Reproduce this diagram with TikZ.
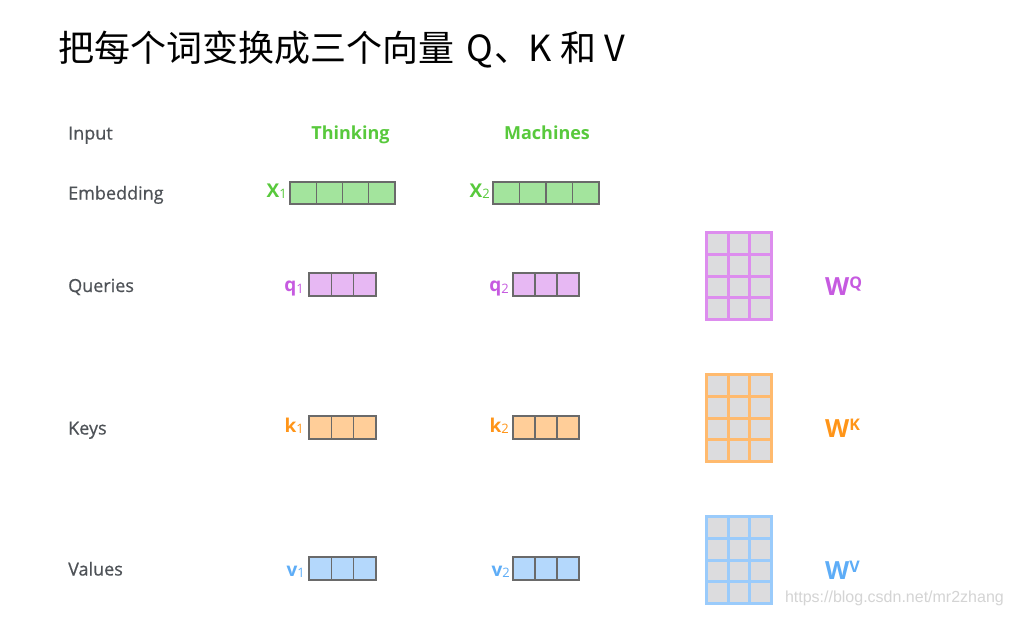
\documentclass[tikz,border=0pt]{standalone}
\usepackage{fontspec}
\setmainfont{Open Sans}
\newfontfamily\cjkfont{Noto Sans CJK SC}
\newfontfamily\wmfont{Liberation Sans}
\newfontfamily\lblfont{Open Sans}[FakeBold=0.6]
\definecolor{lblgray}{HTML}{4E5257}
\definecolor{tgreen}{HTML}{58C93C}
\definecolor{fgreen}{HTML}{A3E49D}
\definecolor{tpurple}{HTML}{C65AE0}
\definecolor{fpurple}{HTML}{E7B8F3}
\definecolor{mpurple}{HTML}{DD8DEE}
\definecolor{torange}{HTML}{FF9519}
\definecolor{forange}{HTML}{FFCE99}
\definecolor{morange}{HTML}{FFBA6E}
\definecolor{tblue}{HTML}{5EADF7}
\definecolor{fblue}{HTML}{B4D8FC}
\definecolor{mblue}{HTML}{9ACBFB}
\definecolor{cellgray}{HTML}{DCDCDE}
\definecolor{vecline}{HTML}{6A6A6A}
\definecolor{wmgray}{HTML}{D4D4D4}
\tikzset{
  rowlabel/.style={anchor=base west,text=lblgray,font=\lblfont\fontsize{18}{20}\selectfont,inner sep=0pt},
  wordlabel/.style={anchor=base,text=tgreen,font=\fontsize{18}{20}\selectfont\bfseries,inner sep=0pt},
  veclabel/.style={anchor=base east,font=\fontsize{19}{22}\selectfont\bfseries,inner sep=0pt},
  wlabel/.style={anchor=base west,font=\fontsize{25}{30}\selectfont\bfseries,inner sep=0pt},
  titlecjk/.style={anchor=base west,inner sep=0pt,font=\cjkfont\fontsize{36}{38}\selectfont},
  titlelat/.style={anchor=base,inner sep=0pt,font=\cjkfont\fontsize{36}{38}\selectfont},
  vecline/.style={draw=vecline,line width=1.2pt},
  gridline/.style={line width=3pt},
}
\newcommand{\subnum}[1]{\raisebox{-1.5pt}{\fontsize{13}{13}\selectfont\mdseries #1}}
\newcommand{\supltr}[1]{\raisebox{7pt}{\fontsize{16}{16}\selectfont #1}}
% vector: #1 x-left, #2 y-top, #3 cell width, #4 cells, #5 height, #6 fill
\newcommand{\myvec}[6]{%
  \foreach \i in {1,...,#4}{%
    \draw[vecline,fill=#6] ({#1+(\i-1)*#3},#2) rectangle ({#1+\i*#3},{#2+#5});
  }%
}
% matrix: #1 x-left, #2 y-top, #3 colour
\newcommand{\mymat}[3]{%
  \fill[cellgray] (#1,#2) rectangle ({#1+68},{#2+90});
  \foreach \c in {0,1,2,3}{\draw[gridline,draw=#3] ({#1+1.5+\c*(65/3)},{#2}) -- ({#1+1.5+\c*(65/3)},{#2+90});}
  \foreach \r in {0,1,2,3,4}{\draw[gridline,draw=#3] ({#1},{#2+1.5+\r*(87/4)}) -- ({#1+68},{#2+1.5+\r*(87/4)});}
}
\begin{document}
\begin{tikzpicture}[x=1pt,y=-1pt]
\useasboundingbox (0,0) rectangle (1012,616);
\fill[white] (0,0) rectangle (1012,616);

% title
\node[titlecjk] (title) at (58,61.5) {把每个词变换成三个向量};
\node[titlelat] (tq) at (480,61.5) {Q};
\node[titlecjk] (tcomma) at (494,61.5) {、};
\node[titlelat] (tk) at (540,61.5) {K};
\node[titlelat] (the) at (578,61.5) {和};
\node[titlelat] (tv) at (615,61.5) {V};

\node[rowlabel] (lin) at (68,139.5) {Input};
\node[rowlabel] (lemb) at (68,199.5) {Embedding};
\node[rowlabel] (lq) at (68,292) {Queries};
\node[rowlabel] (lk) at (68,434.5) {Keys};
\node[rowlabel] (lv) at (68,575.5) {Values};

\node[wordlabel] (w1) at (350.5,139) {Thinking};
\node[wordlabel] (w2) at (547,139) {Machines};

% embeddings
\myvec{290}{182}{26.25}{4}{22}{fgreen}
\myvec{493}{182}{26.5}{4}{22}{fgreen}
\node[veclabel,text=tgreen] (x1) at (287,197) {X\subnum{1}};
\node[veclabel,text=tgreen] (x2) at (490,197) {X\subnum{2}};

% queries
\myvec{309}{273}{22.33}{3}{23}{fpurple}
\myvec{513}{273}{22}{3}{23}{fpurple}
\node[veclabel,text=tpurple] (q1) at (304,291.5) {q\subnum{1}};
\node[veclabel,text=tpurple] (q2) at (509,291.5) {q\subnum{2}};

% keys
\myvec{309}{416}{22.33}{3}{23}{forange}
\myvec{513}{416}{22}{3}{23}{forange}
\node[veclabel,text=torange] (k1) at (304,432) {k\subnum{1}};
\node[veclabel,text=torange] (k2) at (509,432) {k\subnum{2}};

% values
\myvec{309}{557}{22.33}{3}{23}{fblue}
\myvec{513}{557}{22}{3}{23}{fblue}
\node[veclabel,text=tblue] (v1) at (305,576) {v\subnum{1}};
\node[veclabel,text=tblue] (v2) at (510,576) {v\subnum{2}};

% weight matrices
\mymat{705}{231}{mpurple}
\mymat{705}{373}{morange}
\mymat{705}{515}{mblue}

\node[wlabel,text=tpurple] (wq) at (825,295) {W\supltr{Q}};
\node[wlabel,text=torange] (wk) at (825,437) {W\supltr{K}};
\node[wlabel,text=tblue] (wv) at (825,579) {W\supltr{V}};

\node[anchor=east,inner sep=0pt,text=wmgray,font=\wmfont\fontsize{16}{18}\selectfont] (wm) at (1004,598) {https://blog.csdn.net/mr2zhang};
\end{tikzpicture}
\end{document}
